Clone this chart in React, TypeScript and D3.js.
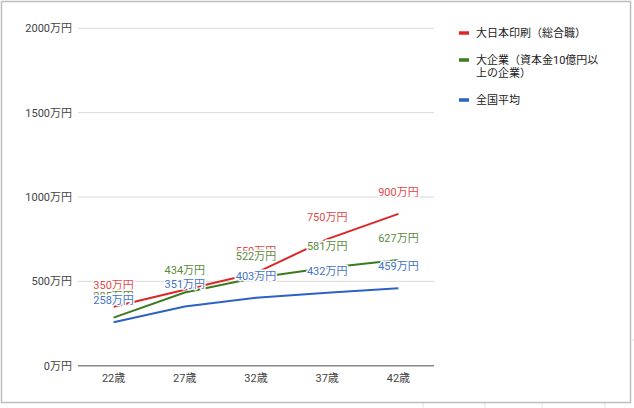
import React, { useEffect, useRef } from 'react';
import * as d3 from 'd3';

const ages = ['22歳', '27歳', '32歳', '37歳', '42歳'];
const dnpValues = [350, 450, 550, 750, 900];
const largeCorpValues = [285, 434, 522, 581, 627];
const nationalValues = [258, 351, 403, 432, 459];
const seriesNames = ['大日本印刷（総合職）', '大企業（資本金10億円以上の企業）', '全国平均'];
const legendLines = [['大日本印刷（総合職）'], ['大企業（資本金10億円以', '上の企業）'], ['全国平均']];
const yTicks = [0, 500, 1000, 1500, 2000];
// labels that the original chart hid because they collided
const hiddenLabels = [[1], [], []];

const lineColors = ['#dc2626', '#3b7a1f', '#2d62c4'];
const labelColors = ['#e04a4a', '#5b8a3c', '#4572c6'];
const FONT = "Roboto, 'Noto Sans CJK JP', sans-serif";

const App: React.FC = () => {
  const svgRef = useRef<SVGSVGElement>(null);

  useEffect(() => {
    if (!svgRef.current) return;
    const svg = d3.select(svgRef.current);
    svg.selectAll('*').remove();

    const width = 634;
    const height = 408;
    const plot = { left: 78, right: 434, top: 28.3, bottom: 365.7 };

    svg.append('rect').attr('width', width).attr('height', height).attr('fill', '#fff');

    // faint spreadsheet cells behind the screenshot
    const cellLines = [423, 485, 542, 605];
    svg.selectAll('.cell')
      .data(cellLines)
      .enter()
      .append('line')
      .attr('x1', d => d).attr('x2', d => d)
      .attr('y1', 403).attr('y2', 408)
      .attr('stroke', '#e2e2e2');
    svg.append('line').attr('x1', 632).attr('x2', 634).attr('y1', 340).attr('y2', 340).attr('stroke', '#e2e2e2');

    svg.append('rect')
      .attr('x', 1.5).attr('y', 1.5)
      .attr('width', 629).attr('height', 401)
      .attr('fill', '#fff')
      .attr('stroke', '#bdbdbd')
      .attr('stroke-width', 1.5);

    const x = d3.scaleBand().domain(ages).range([plot.left, plot.right]).padding(0);
    const y = d3.scaleLinear().domain([0, 2000]).range([plot.bottom, plot.top]);
    const cx = (a: string) => (x(a) || 0) + x.bandwidth() / 2;

    // grid
    svg.selectAll('.grid')
      .data(yTicks.filter(t => t > 0))
      .enter()
      .append('line')
      .attr('x1', plot.left).attr('x2', plot.right)
      .attr('y1', d => y(d)).attr('y2', d => y(d))
      .attr('stroke', '#d9d9d9')
      .attr('stroke-width', 1);

    svg.append('line')
      .attr('x1', plot.left).attr('x2', plot.right)
      .attr('y1', y(0)).attr('y2', y(0))
      .attr('stroke', '#8a8a8a')
      .attr('stroke-width', 1.5);

    svg.selectAll('.ytick')
      .data(yTicks)
      .enter()
      .append('text')
      .attr('x', 72)
      .attr('y', d => y(d) + 4)
      .attr('text-anchor', 'end')
      .attr('font-family', FONT)
      .attr('font-size', '11px')
      .attr('fill', '#444')
      .text(d => `${d}万円`);

    svg.selectAll('.xtick')
      .data(ages)
      .enter()
      .append('text')
      .attr('x', d => cx(d))
      .attr('y', 382)
      .attr('text-anchor', 'middle')
      .attr('font-family', FONT)
      .attr('font-size', '11px')
      .attr('fill', '#444')
      .text(d => d);

    const series = [dnpValues, largeCorpValues, nationalValues];
    const line = d3.line<number>()
      .x((_, i) => cx(ages[i]))
      .y(d => y(d));

    series.forEach((vals, s) => {
      svg.append('path')
        .attr('d', line(vals) || '')
        .attr('fill', 'none')
        .attr('stroke', lineColors[s])
        .attr('stroke-width', 2);
    });

    series.forEach((vals, s) => {
      svg.append('g')
        .selectAll('text')
        .data(vals.map((v, i) => ({ v, i })).filter(d => !hiddenLabels[s].includes(d.i)))
        .enter()
        .append('text')
        .attr('x', d => cx(ages[d.i]))
        .attr('y', d => y(d.v) - 18)
        .attr('text-anchor', 'middle')
        .attr('font-family', FONT)
        .attr('font-size', '11px')
        .attr('fill', labelColors[s])
        .attr('stroke', '#fff')
        .attr('stroke-width', 3)
        .attr('stroke-linejoin', 'round')
        .attr('paint-order', 'stroke')
        .text(d => `${d.v}万円`);
    });

    // legend
    const legendY = [33, 60, 100];
    seriesNames.forEach((name, s) => {
      const g = svg.append('g').attr('transform', `translate(459, ${legendY[s]})`);
      g.append('line')
        .attr('x1', 0).attr('x2', 10)
        .attr('y1', 0).attr('y2', 0)
        .attr('stroke', lineColors[s])
        .attr('stroke-width', 3.5);
      legendLines[s].forEach((t, k) => {
        g.append('text')
          .attr('x', 17)
          .attr('y', 4 + k * 13)
          .attr('font-family', FONT)
          .attr('font-size', '11px')
          .attr('fill', '#222')
          .text(t);
      });
    });
  }, []);

  return (
    <div style={{ position: 'fixed', left: 0, top: 0, width: 634, height: 408 }}>
      <svg ref={svgRef} width={634} height={408} style={{ display: 'block' }} />
    </div>
  );
};

export default App;
